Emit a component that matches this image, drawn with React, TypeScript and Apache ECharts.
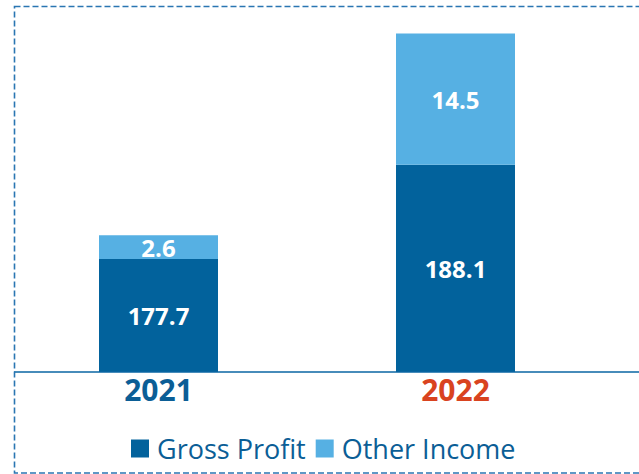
import React, { useEffect, useRef } from "react";
import * as echarts from "echarts";

const categories = ["2021", "2022"];
const grossProfit = [177.7, 188.1];
const otherIncome = [2.6, 14.5];
const seriesNames = ["Gross Profit", "Other Income"];

const DARK = "#02629c";
const LIGHT = "#56b0e3";
const FONT = "'Open Sans', 'Noto Sans', sans-serif";

export default function App() {
  const ref = useRef<HTMLDivElement>(null);
  useEffect(() => {
    if (!ref.current) return;
    const chart = echarts.init(ref.current, undefined, { renderer: "svg" });
    const labelStyle = {
      show: true,
      position: "inside",
      color: "#ffffff",
      fontFamily: FONT,
      fontWeight: "bold",
      fontSize: 24,
    };
    chart.setOption({
      animation: false,
      backgroundColor: "#ffffff",
      grid: { left: 10, right: 35, top: 10, bottom: 102, containLabel: false },
      xAxis: {
        type: "category",
        data: categories,
        axisLine: { show: false },
        axisTick: { show: false },
        axisLabel: {
          margin: 2,
          formatter: (v: string, i: number) => (i === 1 ? `{b|${v}}` : `{a|${v}}`),
          rich: {
            a: { color: "#0b5e96", fontFamily: FONT, fontWeight: "bold", fontSize: 30, lineHeight: 30 },
            b: { color: "#d9431f", fontFamily: FONT, fontWeight: "bold", fontSize: 30, lineHeight: 30 },
          },
        },
      },
      yAxis: {
        type: "value",
        min: 165.2,
        max: 205.2,
        show: false,
        splitLine: { show: false },
      },
      legend: {
        left: 126,
        top: 430,
        icon: "rect",
        itemWidth: 18,
        itemHeight: 18,
        itemGap: 10,
        textStyle: {
          color: "#0b5e96",
          fontFamily: FONT,
          fontSize: 27,
          padding: [0, 0, 0, 3],
        },
        data: seriesNames,
      },
      series: [
        {
          name: seriesNames[0],
          type: "bar",
          stack: "total",
          barWidth: 119,
          data: grossProfit,
          itemStyle: { color: DARK },
          label: labelStyle,
        },
        {
          name: seriesNames[1],
          type: "bar",
          stack: "total",
          barWidth: 119,
          data: otherIncome,
          itemStyle: { color: LIGHT },
          label: labelStyle,
        },
      ],
      graphic: [
        {
          type: "line",
          shape: { x1: 14, y1: 372, x2: 639, y2: 372 },
          style: { stroke: "#0a66a3", lineWidth: 1.5 },
          z: 10,
        },
        {
          type: "rect",
          shape: { x: 14.5, y: 6.5, width: 700, height: 466.5 },
          style: { fill: "none", stroke: "#2a76b2", lineWidth: 1.6, lineDash: [6, 3] },
          z: 10,
        },
      ],
    });
    return () => chart.dispose();
  }, []);
  return (
    <div
      ref={ref}
      style={{ position: "fixed", left: 0, top: 0, width: 639, height: 474 }}
    />
  );
}
